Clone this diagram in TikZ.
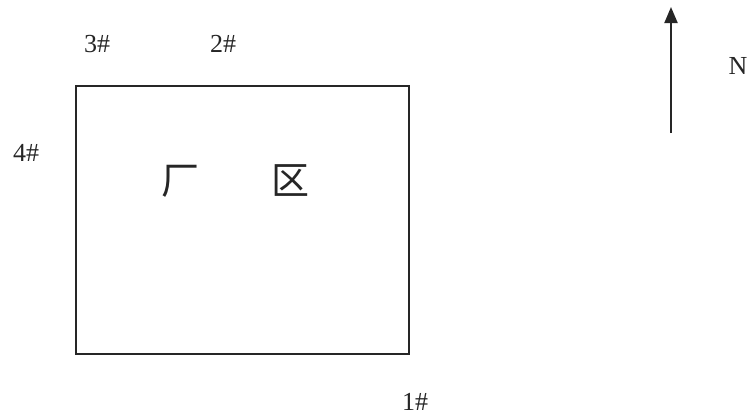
\documentclass[tikz,border=0pt]{standalone}
\usepackage{fontspec}
\setmainfont{Liberation Serif}
\newfontfamily\cjk{Noto Sans CJK SC}
\usetikzlibrary{arrows.meta}
\begin{document}
\begin{tikzpicture}[x=1pt,y=-1pt,
  lbl/.style={font=\fontsize{26}{26}\selectfont, inner sep=0pt, text=black!85},
  cjklbl/.style={font=\cjk\fontsize{38}{38}\selectfont, inner sep=0pt, text=black!85},
  area/.style={draw=black!85, line width=2pt, inner sep=0pt}]
\useasboundingbox (0,0) rectangle (752,416);
\node[area, minimum width=333pt, minimum height=268pt] (plant) at (242.5,220) {};
\node[cjklbl] (chang) at (180,181) {厂};
\node[cjklbl] (qu) at (290,181) {区};
\node[lbl] (p3) at (97,44) {3\#};
\node[lbl] (p2) at (223,44) {2\#};
\node[lbl] (p4) at (26,153) {4\#};
\node[lbl] (p1) at (415,402) {1\#};
\node[lbl] (north) at (738,66) {N};
\coordinate (tail) at (671,133);
\coordinate (head) at (671,7);
\draw[draw=black!85, line width=2pt, -{Triangle[length=16pt,width=13pt]}] (tail) -- (head);
\end{tikzpicture}
\end{document}
